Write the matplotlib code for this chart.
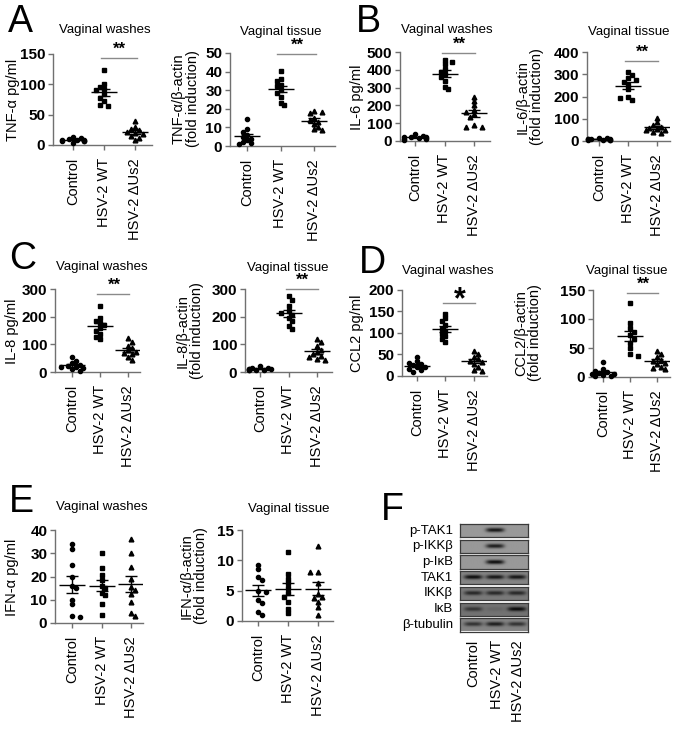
import numpy as np
import matplotlib
matplotlib.use('Agg')
import matplotlib.pyplot as plt

plt.rcParams['font.family'] = ['Liberation Sans', 'DejaVu Sans']

W, H = 675, 729

groups = ['Control', 'HSV-2 WT', 'HSV-2 ΔUs2']
markers = ['o', 's', '^']

# ---- data (10 animals per group) ----
tnf_wash = [
    [4, 6, 7, 8, 9, 10, 12, 14, 6, 8],
    [124, 100, 96, 92, 90, 84, 78, 72, 66, 64],
    [40, 30, 26, 24, 22, 20, 18, 15, 12, 8],
]
tnf_tissue = [
    [14.5, 9, 7.5, 6, 5, 4, 3, 2, 1, 1.5],
    [40.5, 36, 35, 33, 32, 30, 28.5, 26.5, 23, 22],
    [19, 18.5, 17.5, 15, 14, 13, 12, 10, 8.5, 9],
]
il6_wash = [
    [40, 30, 25, 20, 18, 15, 12, 10, 8, 22],
    [455, 445, 430, 405, 390, 375, 360, 335, 305, 290],
    [250, 225, 200, 175, 165, 150, 135, 90, 80, 80],
]
il6_tissue = [
    [15, 12, 10, 8, 6, 5, 4, 10, 7, 3],
    [310, 296, 282, 274, 266, 252, 232, 200, 184, 192],
    [105, 85, 72, 65, 60, 55, 48, 42, 35, 50],
]
il8_wash = [
    [53, 40, 32, 27, 23, 19, 15, 10, 5, 18],
    [240, 195, 185, 178, 170, 160, 150, 138, 128, 118],
    [122, 110, 95, 85, 78, 72, 65, 55, 45, 68],
]
il8_tissue = [
    [20, 16, 14, 12, 10, 9, 8, 7, 6, 12],
    [275, 260, 240, 220, 215, 205, 195, 185, 165, 155],
    [120, 110, 95, 80, 72, 65, 58, 48, 42, 55],
]
ccl2_wash = [
    [44, 34, 30, 27, 25, 22, 20, 17, 13, 10],
    [145, 135, 127, 118, 110, 104, 98, 92, 86, 80],
    [57, 52, 45, 40, 36, 32, 28, 22, 15, 12],
]
ccl2_tissue = [
    [26, 14, 11, 9, 7, 6, 5, 3, 2, 1],
    [128, 93, 85, 78, 72, 65, 58, 50, 40, 37],
    [44, 40, 35, 30, 27, 25, 22, 18, 15, 13],
]
ifn_wash = [
    [34, 32, 25, 20, 16, 15, 10, 8, 3, 2.5],
    [30, 23.5, 20.5, 18.5, 16, 15, 13, 12, 8, 3.5],
    [36, 30, 24, 19, 15.5, 14, 12.5, 9, 4.5, 3],
]
ifn_tissue = [
    [9.3, 8.5, 7.3, 6.8, 5, 4.7, 3.4, 3, 1.5, 1],
    [11.4, 7.8, 7, 6.2, 5.5, 4.6, 4, 3.2, 2, 1.3],
    [12.3, 8, 8, 6.3, 4.5, 4, 3.8, 3.2, 2.3, 1],
]

# western blot (panel F): band strength per lane, membrane grey per row
blot_rows = ['p-TAK1', 'p-IKKβ', 'p-IκB', 'TAK1', 'IKKβ', 'IκB', 'β-tubulin']
blot_bands = [
    [0.0, 0.95, 0.0],
    [0.0, 0.9, 0.0],
    [0.0, 1.0, 0.0],
    [0.85, 0.8, 0.8],
    [0.6, 0.6, 0.6],
    [0.45, 0.1, 0.75],
    [0.6, 0.75, 0.6],
]
blot_bg = [0.6, 0.6, 0.6, 0.52, 0.48, 0.45, 0.52]

fig = plt.figure(figsize=(W / 100, H / 100), dpi=100)


def px_axes(x0, ytop, x1, ybot):
    return fig.add_axes([x0 / W, 1 - ybot / H, (x1 - x0) / W, (ybot - ytop) / H])


def swarm(vals, ppu, sp, d=4.2):
    # simple beeswarm spread in pixel space, returned in category units
    vals = np.asarray(vals, float)
    off = np.zeros(len(vals))
    placed = []
    for n, i in enumerate(np.argsort(vals)[::-1]):
        y = vals[i] * ppu
        x = 0.0
        sign = 1 if n % 2 else -1
        for k in [0, sign, -sign, 2 * sign, -2 * sign, 3 * sign, -3 * sign]:
            x = k * d * 0.9
            if all((x - a) ** 2 + (y - b) ** 2 >= d * d for a, b in placed):
                break
        placed.append((x, y))
        off[i] = x / sp
    return off


def dot_panel(data, box, ymax, step, sig=None, star='**'):
    x0, x1, c0, sp, ytop, ybot = box
    ax = px_axes(x0, ytop, x1, ybot)
    ppu = (ybot - ytop) / ymax
    for i, vals in enumerate(data):
        vals = np.asarray(vals, float)
        xs = i + swarm(vals, ppu, sp)
        ms = 3.0 if markers[i] != '^' else 3.4
        ax.plot(xs, vals, markers[i], color='black', ms=ms, mec='black',
                clip_on=False, zorder=3)
        m = vals.mean()
        sem = vals.std(ddof=1) / np.sqrt(len(vals))
        hw = 13 / sp
        ax.hlines(m, i - hw, i + hw, color='black', lw=1.0, zorder=4)
        ax.errorbar(i, m, yerr=sem, color='black', lw=1.0, capsize=4,
                    capthick=1.0, zorder=4)
    ax.set_xlim((x0 - c0) / sp, (x1 - c0) / sp)
    ax.set_ylim(0, ymax)
    ax.set_yticks(np.arange(0, ymax + step / 2, step))
    ax.set_xticks(range(3))
    ax.set_xticklabels(groups, rotation=90, fontsize=10.5)
    for t in ax.get_yticklabels():
        t.set_fontweight('bold')
        t.set_fontsize(11)
    for s in ['top', 'right']:
        ax.spines[s].set_visible(False)
    for s in ['left', 'bottom']:
        ax.spines[s].set_color('#707070')
        ax.spines[s].set_linewidth(1.0)
    ax.tick_params(axis='both', direction='out', length=3.5, width=1.0,
                   color='#707070')
    ax.tick_params(axis='x', pad=6)
    ax.tick_params(axis='y', pad=2)
    ax.patch.set_alpha(0)
    if sig is not None:
        ys = sig * ymax
        ax.plot([1 - 0.1, 2 + 0.05], [ys, ys], color='#8a8a8a',
                lw=1.0, clip_on=False)
        if star == '**':
            ax.text(1.5, ys + 1 / ppu, star, ha='center', va='bottom',
                    fontsize=12, fontweight='bold', clip_on=False)
        else:
            ax.text(1.5, ys + 3 / ppu, star, ha='center', va='center',
                    fontsize=22, fontweight='bold', clip_on=False)
    return ax


def ftext(x, y, s, **kw):
    fig.text(x / W, 1 - y / H, s, **kw)


# panel boxes: (axis left px, axis right px, first category px, spacing px, top px, bottom px)
dot_panel(tnf_wash, (53, 152, 73, 31, 54, 145), 150, 50, sig=0.96)
dot_panel(tnf_tissue, (230, 335, 247, 33.5, 53, 146), 50, 10, sig=0.99)
dot_panel(il6_wash, (400, 490, 415, 29.5, 52, 141), 500, 100, sig=0.99)
dot_panel(il6_tissue, (587, 670, 599, 29, 52, 141), 400, 100, sig=0.9)
dot_panel(il8_wash, (55, 140, 72, 28, 289, 372), 300, 100, sig=0.94)
dot_panel(il8_tissue, (245, 332, 260, 28.5, 289, 372), 300, 100, sig=1.0)
dot_panel(ccl2_wash, (402, 487, 417, 28.5, 290, 376), 200, 50, sig=0.85, star='*')
dot_panel(ccl2_tissue, (593, 670, 603, 27, 290, 377), 150, 50, sig=0.97)
dot_panel(ifn_wash, (55, 143, 72, 29.5, 530, 623), 40, 10)
dot_panel(ifn_tissue, (242, 333, 258, 30, 530, 621), 15, 5)

# titles
for x, y, s in [(105, 30, 'Vaginal washes'), (281, 32, 'Vaginal tissue'),
                (447, 30, 'Vaginal washes'), (629, 32, 'Vaginal tissue'),
                (102, 267, 'Vaginal washes'), (288, 268, 'Vaginal tissue'),
                (448, 271, 'Vaginal washes'), (627, 271, 'Vaginal tissue'),
                (102, 507, 'Vaginal washes'), (289, 509, 'Vaginal tissue')]:
    ftext(x, y, s, ha='center', va='center', fontsize=9.5)

# y labels
ylabs = [(13, 100, 'TNF-α pg/ml'), (186, 99, 'TNF-α/β-actin\n(fold induction)'),
         (357, 97, 'IL-6 pg/ml'), (530, 97, 'IL-6/β-actin\n(fold induction)'),
         (12, 331, 'IL-8 pg/ml'), (190, 331, 'IL-8/β-actin\n(fold induction)'),
         (357, 333, 'CCL2 pg/ml'), (528, 333, 'CCL2/β-actin\n(fold induction)'),
         (12, 577, 'IFN-α pg/ml'), (194, 576, 'IFN-α/β-actin\n(fold induction)')]
for x, y, s in ylabs:
    ftext(x, y, s, ha='center', va='center', rotation=90, fontsize=10.5,
          linespacing=1.0)

# panel letters
for x, y, s in [(8, 32, 'A'), (356, 32, 'B'), (9, 269, 'C'), (359, 273, 'D'),
                (9, 512, 'E'), (381, 520, 'F')]:
    ftext(x, y, s, ha='left', va='baseline', fontsize=27)

# ---- panel F: blot ----
lane_x = np.linspace(-0.6, 2.5, 140)
row_y = np.linspace(-1, 1, 26)
XX, YY = np.meshgrid(lane_x, row_y)
for r, name in enumerate(blot_rows):
    top = 524 + r * 15.7
    ax = px_axes(460, top, 528, top + 13.3)
    img = np.full(XX.shape, blot_bg[r])
    for lane, amp in enumerate(blot_bands[r]):
        img -= 0.55 * amp * np.exp(-(np.abs(XX - lane) / 0.42) ** 4) \
            * np.exp(-YY ** 2 / (2 * 0.22 ** 2))
    ax.imshow(np.clip(img, 0, 1), cmap='gray', vmin=0, vmax=1, aspect='auto',
              extent=[-0.6, 2.5, -1, 1], interpolation='bilinear')
    ax.set_xticks([])
    ax.set_yticks([])
    for s in ax.spines.values():
        s.set_color('#3a3a3a')
        s.set_linewidth(0.9)
    ftext(453, top + 6.6, name, ha='right', va='center', fontsize=9.5)

for x, s in zip([473, 497, 518], groups):
    ftext(x, 640, s, ha='center', va='top', rotation=90, fontsize=10.5)

fig.savefig('out.png', dpi=100)
